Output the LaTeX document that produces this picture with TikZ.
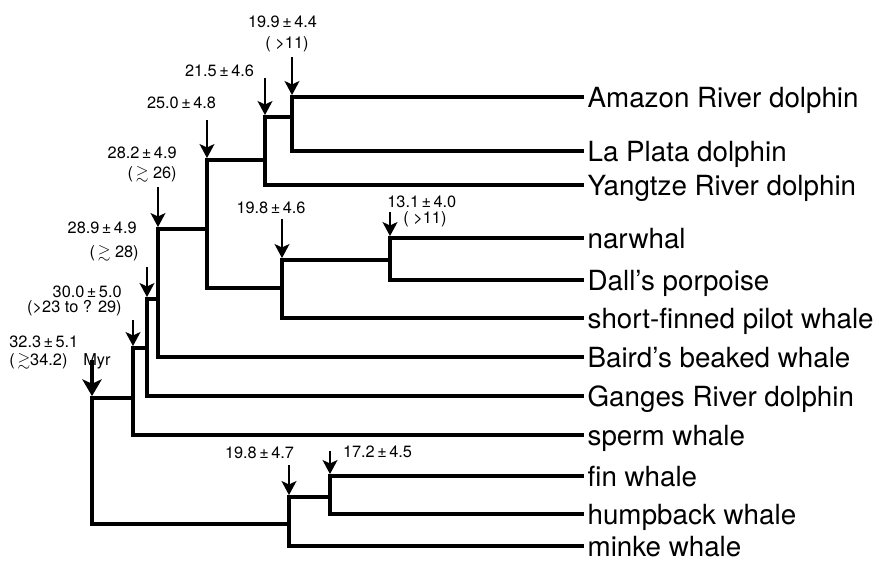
\documentclass[tikz,border=0pt]{standalone}
\usepackage{amssymb}
\usepackage{fontspec}
\setmainfont{TeX Gyre Heros}
\usepackage{tikz}
\usetikzlibrary{arrows.meta, positioning}
\newcommand{\pmage}{\kern1.4pt±\kern1.4pt}

\begin{document}
\begin{tikzpicture}[x=0.02cm, y=-0.02cm,
    branch/.style={line width=2.3pt, line cap=rect},
    leaf/.style={anchor=west, font=\fontsize{15.8}{18}\selectfont,
                 text height=11.4pt, text depth=0pt, inner xsep=3pt, inner ysep=0.5pt},
    age/.style={font=\fontsize{9.3}{10.5}\selectfont, inner sep=0pt,
                text height=6.6pt, text depth=0pt},
    datearrow/.style={-{Stealth[length=8pt, width=8.5pt, inset=2pt]},
                      line width=1.1pt, shorten >=1.1pt},
    rootarrow/.style={-{Stealth[length=9.5pt, width=11pt, inset=2.5pt]},
                      line width=2.2pt, shorten >=1.1pt}
  ]
    \useasboundingbox (0,0) rectangle (879,562);

    % species
    \node[leaf] at (582, 97) (amazon) {Amazon River dolphin};
    \node[leaf] at (582,151) (laplata) {La Plata dolphin};
    \node[leaf] at (582,185) (yangtze) {Yangtze River dolphin};
    \node[leaf] at (582,238) (narwhal) {narwhal};
    \node[leaf] at (582,280) (dall) {Dall's porpoise};
    \node[leaf] at (582,318) (pilot) {short-finned pilot whale};
    \node[leaf] at (582,357) (baird) {Baird's beaked whale};
    \node[leaf] at (582,396) (ganges) {Ganges River dolphin};
    \node[leaf] at (582,435) (sperm) {sperm whale};
    \node[leaf] at (582,476) (fin) {fin whale};
    \node[leaf] at (582,514) (humpback) {humpback whale};
    \node[leaf] at (582,546) (minke) {minke whale};

    % internal nodes
    \coordinate (r) at (92,398);
    \coordinate (n133) at (133,398);
    \coordinate (n147) at (147,348);
    \coordinate (n158) at (158,299);
    \coordinate (n208) at (207,229);
    \coordinate (n265) at (265,160);
    \coordinate (n292) at (292,117);
    \coordinate (n282) at (282,288);
    \coordinate (n390) at (390,260);
    \coordinate (m289) at (289,524);
    \coordinate (m330) at (330,497);

    \draw[branch] (r) |- (n133);
    \draw[branch] (r) |- (m289);
    \draw[branch] (n133) |- (n147);
    \draw[branch] (n133) |- (sperm);
    \draw[branch] (n147) |- (n158);
    \draw[branch] (n147) |- (ganges);
    \draw[branch] (n158) |- (n208);
    \draw[branch] (n158) |- (baird);
    \draw[branch] (n208) |- (n265);
    \draw[branch] (n208) |- (n282);
    \draw[branch] (n265) |- (n292);
    \draw[branch] (n265) |- (yangtze);
    \draw[branch] (n292) |- (amazon);
    \draw[branch] (n292) |- (laplata);
    \draw[branch] (n282) |- (n390);
    \draw[branch] (n282) |- (pilot);
    \draw[branch] (n390) |- (narwhal);
    \draw[branch] (n390) |- (dall);
    \draw[branch] (m289) |- (m330);
    \draw[branch] (m289) |- (minke);
    \draw[branch] (m330) |- (fin);
    \draw[branch] (m330) |- (humpback);

    % divergence times
    \node[age] at (282.5,22) (lab292) {19.9\pmage4.4};
    \node[age] at (287,43) (lim292) {( >11)};
    \node[age] at (219.5,71) (lab265) {21.5\pmage4.6};
    \node[age] at (181.5,103) (lab208) {25.0\pmage4.8};
    \node[age, anchor=east] at (177,153) (lab158) {28.2\pmage4.9};
    \node[age, anchor=east] at (177,173) (lim158) {(\,$\gtrsim$ 26)};
    \node[age, anchor=east] at (137,228) (lab147) {28.9\pmage4.9};
    \node[age, anchor=east] at (139,252) (lim147) {(\,$\gtrsim$ 28)};
    \node[age, anchor=east] at (122,292) (lab133) {30.0\pmage5.0};
    \node[age, anchor=east] at (122,307) (lim133) {(>23 to ? 29)};
    \node[age, anchor=west] at (9,342) (lab92) {32.3\pmage5.1};
    \node[age, anchor=west] at (9,360) (lim92) {(\,$\gtrsim$34.2)};
    \node[age, anchor=west] at (83,360) (myr) {Myr};
    \node[age] at (271,208) (lab282) {19.8\pmage4.6};
    \node[age, anchor=west] at (387,202) (lab390) {13.1\pmage4.0};
    \node[age, anchor=west] at (403,218) (lim390) {( >11)};
    \node[age] at (259.5,453) (lab289) {19.8\pmage4.7};
    \node[age] at (377.5,452) (lab330) {17.2\pmage4.5};

    \coordinate (a292) at (292,57);
    \coordinate (a265) at (265,78);
    \coordinate (a208) at (207,120);
    \coordinate (a158) at (158,187);
    \coordinate (a147) at (147,267);
    \coordinate (a133) at (133,320);
    \coordinate (a92) at (92,360);
    \coordinate (a282) at (282,219);
    \coordinate (a390) at (390,212);
    \coordinate (a289) at (289,465);
    \coordinate (a330) at (330,451);

    \draw[datearrow] (a292) -- (n292 |- amazon);
    \draw[datearrow] (a265) -- (n265 |- n292);
    \draw[datearrow] (a208) -- (n208 |- n265);
    \draw[datearrow] (a158) -- (n158 |- n208);
    \draw[datearrow] (a147) -- (n147 |- n158);
    \draw[datearrow] (a133) -- (n133 |- n147);
    \draw[rootarrow] (a92) -- (r);
    \draw[datearrow] (a282) -- (n282 |- n390);
    \draw[datearrow] (a390) -- (n390 |- narwhal);
    \draw[datearrow] (a289) -- (m289 |- m330);
    \draw[datearrow] (a330) -- (m330 |- fin);
\end{tikzpicture}
\end{document}
